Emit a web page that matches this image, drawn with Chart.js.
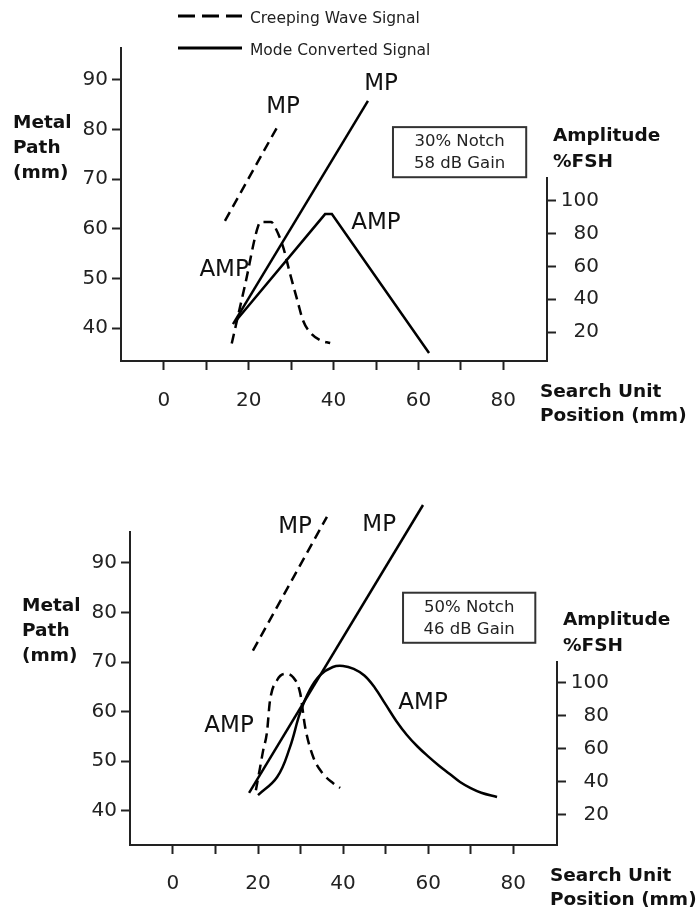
<!DOCTYPE html>
<html>
<head>
<meta charset="utf-8">
<script src="https://cdn.jsdelivr.net/npm/chart.js@4.4.1/dist/chart.umd.min.js"></script>
<style>
  body { margin: 0; background: #fff; }
  canvas { display: block; }
</style>
</head>
<body>
<canvas id="topChart" width="696" height="440"></canvas>
<canvas id="botChart" width="696" height="472"></canvas>
<script>
// values (x = search unit position mm, MP = metal path mm, AMP = %FSH)
const seriesNames = ["Creeping Wave Signal", "Mode Converted Signal"]
const xTicks = [0, 10, 20, 30, 40, 50, 60, 70, 80]
const xTickLabels = [0, 20, 40, 60, 80]
const mpTicks = [40, 50, 60, 70, 80, 90]
const ampTicks = [20, 40, 60, 80, 100]

// 30% notch
const topNote = ["30% Notch", "58 dB Gain"]
const topCwMpX = [14.4, 27.1]
const topCwMpY = [61.6, 81.1]
const topMcMpX = [16.3, 48.1]
const topMcMpY = [40.8, 85.8]
const topCwAmpX = [16.0, 19.2, 22.2, 22.9, 25.3, 26.2, 28.1, 29.7, 31.6, 32.8, 34.4, 36.8, 39.2]
const topCwAmpY = [13, 49.5, 84.5, 87.2, 87.2, 84, 72, 56, 38, 27, 20, 15, 13.3]
const topMcAmpX = [16.7, 38.0, 39.6, 62.5]
const topMcAmpY = [26, 92, 92, 7.2]

// 50% notch
const botNote = ["50% Notch", "46 dB Gain"]
const botCwMpX = [18.8, 36.2]
const botCwMpY = [72.3, 99.3]
const botMcMpX = [17.9, 58.8]
const botMcMpY = [43.6, 101.7]
const botCwAmpX = [19.5, 20.5, 21.2, 22.1, 22.8, 24.5, 26.4, 28.2, 29.9, 31.1, 33.0, 35.1, 37.6, 39.3]
const botCwAmpY = [35, 49, 59, 70, 89, 101.8, 105.5, 103.6, 94, 73, 55, 45.5, 39.4, 36.4]
const botMcAmpX = [20.0, 24.5, 27.5, 29.9, 32.2, 34.6, 37.6, 40.0, 42.5, 45.0, 47.5, 50.0, 52.5, 55.0, 57.5, 60.0, 62.5, 65.0, 67.5, 70.0, 72.5, 76.2]
const botMcAmpY = [32, 43, 61, 82, 96, 104.8, 109.7, 110.3, 108.5, 104.5, 97, 87, 77, 68.5, 61.5, 55.5, 50, 45, 40, 36.3, 33.5, 30.9]

const axisColor = "#222"
const fontName = '"DejaVu Sans", sans-serif'
const dash = [10, 6]
Chart.defaults.font.family = fontName

const pts = (xs, ys) => xs.map((x, i) => ({ x: x, y: ys[i] }))

// smooth: 0 straight, 1 monotone, 2 bezier
const line = (data, axis, dashed, smooth) => ({
  data: data,
  yAxisID: axis,
  borderColor: "#000",
  borderWidth: 2.5,
  borderDash: dashed ? dash : [],
  pointRadius: 0,
  fill: false,
  clip: false,
  tension: smooth === 2 ? 0.4 : 0,
  cubicInterpolationMode: smooth === 1 ? "monotone" : "default"
})

// texts, box, partial amplitude axis and legend
const decor = {
  id: "decor",
  afterDraw(chart, args, o) {
    const ctx = chart.ctx, a = chart.chartArea
    const xs = chart.scales.x, ys = chart.scales.y, amp = chart.scales.amp
    ctx.save()
    // amplitude axis only covers the lower part
    const ampTop = amp.getPixelForValue(o.ampAxisTop)
    ctx.strokeStyle = axisColor
    ctx.lineWidth = 2
    ctx.beginPath()
    ctx.moveTo(a.right, ampTop)
    ctx.lineTo(a.right, a.bottom + 1)
    ctx.stroke()

    // MP / AMP labels
    ctx.fillStyle = "#111"
    ctx.font = "23px " + fontName
    ctx.textAlign = "center"
    ctx.textBaseline = "middle"
    o.labels.forEach(l => ctx.fillText(l.text, xs.getPixelForValue(l.x), ys.getPixelForValue(l.y)))

    // notch box
    const bx1 = xs.getPixelForValue(o.box.x1), bx2 = xs.getPixelForValue(o.box.x2)
    const by1 = ys.getPixelForValue(o.box.y1), by2 = ys.getPixelForValue(o.box.y2)
    ctx.lineWidth = 2
    ctx.strokeStyle = "#333"
    ctx.strokeRect(bx1, by1, bx2 - bx1, by2 - by1)
    ctx.fillStyle = "#222"
    ctx.font = "16.5px " + fontName
    ctx.textBaseline = "alphabetic"
    o.note.forEach((t, i) => ctx.fillText(t, (bx1 + bx2) / 2, by1 + 19 + i * 22))

    // axis titles
    ctx.fillStyle = "#111"
    ctx.font = "bold 18.5px " + fontName
    ctx.textAlign = "left"
    const y80 = ys.getPixelForValue(80)
    ;["Metal", "Path", "(mm)"].forEach((t, i) => ctx.fillText(t, a.left - 108, y80 - 2 + i * 25))
    ctx.fillText("Amplitude", a.right + 6, ampTop - 36)
    ctx.fillText("%FSH", a.right + 6, ampTop - 10)
    ctx.fillText("Search Unit", a.right - 7, a.bottom + 36)
    ctx.fillText("Position (mm)", a.right - 7, a.bottom + 60)

    if (o.legend) {
      ctx.strokeStyle = "#000"
      ctx.lineWidth = 3
      ctx.font = "15.5px " + fontName
      ctx.fillStyle = "#222"
      seriesNames.forEach((name, i) => {
        const y = 16 + i * 32
        ctx.setLineDash(i === 0 ? [17, 7] : [])
        ctx.beginPath()
        ctx.moveTo(178, y)
        ctx.lineTo(242, y)
        ctx.stroke()
        ctx.fillText(name, 250, y + 7)
      })
      ctx.setLineDash([])
    }
    ctx.restore()
  }
}

function makeChart(id, sets, s) {
  const tickFont = { size: 20 }
  return new Chart(document.getElementById(id), {
    type: "line",
    data: { datasets: sets },
    options: {
      responsive: false,
      animation: false,
      events: [],
      layout: { padding: { left: 0, right: s.padRight, top: s.padTop, bottom: 0 } },
      plugins: {
        legend: { display: false },
        tooltip: { enabled: false },
        decor: s.decor
      },
      scales: {
        x: {
          type: "linear",
          min: -10.1,
          max: 90.3,
          afterBuildTicks: sc => { sc.ticks = xTicks.map(v => ({ value: v })) },
          afterFit: sc => { sc.height = s.xHeight },
          ticks: {
            autoSkip: false,
            maxRotation: 0,
            padding: s.xPad,
            color: "#222",
            font: tickFont,
            callback: v => xTickLabels.includes(v) ? String(v) : ""
          },
          grid: { drawOnChartArea: false, tickLength: 9, tickWidth: 2, tickColor: axisColor },
          border: { width: 2, color: axisColor }
        },
        y: {
          position: "left",
          min: s.mpMin,
          max: s.mpMax,
          afterBuildTicks: sc => { sc.ticks = mpTicks.map(v => ({ value: v })) },
          afterFit: sc => { sc.width = s.leftWidth },
          ticks: { padding: 4, color: "#222", font: tickFont },
          grid: { drawOnChartArea: false, tickLength: 9, tickWidth: 2, tickColor: axisColor },
          border: { width: 2, color: axisColor }
        },
        amp: {
          position: "right",
          min: s.ampMin,
          max: s.ampMax,
          afterBuildTicks: sc => { sc.ticks = ampTicks.map(v => ({ value: v })) },
          afterFit: sc => { sc.width = 52 },
          ticks: { padding: 5, crossAlign: "far", color: "#222", font: tickFont },
          grid: { drawOnChartArea: false, tickLength: 9, tickWidth: 2, tickColor: axisColor },
          border: { display: false }
        }
      }
    },
    plugins: [decor]
  })
}

makeChart("topChart", [
  line(pts(topCwMpX, topCwMpY), "y", true, 0),
  line(pts(topMcMpX, topMcMpY), "y", false, 0),
  line(pts(topCwAmpX, topCwAmpY), "amp", true, 1),
  line(pts(topMcAmpX, topMcAmpY), "amp", false, 0)
], {
  padTop: 48, padRight: 97, xHeight: 79, xPad: 19, leftWidth: 121,
  mpMin: 33.35, mpMax: 96.45, ampMin: 2.3, ampMax: 193.4,
  decor: {
    ampAxisTop: 114.7,
    legend: true,
    note: topNote,
    box: { x1: 54.0, x2: 85.4, y1: 80.5, y2: 70.4 },
    labels: [
      { text: "MP", x: 28.1, y: 84.6 },
      { text: "MP", x: 51.2, y: 89.2 },
      { text: "AMP", x: 14.2, y: 51.7 },
      { text: "AMP", x: 50.0, y: 61.2 }
    ]
  }
})

makeChart("botChart", [
  line(pts(botCwMpX, botCwMpY), "y", true, 0),
  line(pts(botMcMpX, botMcMpY), "y", false, 0),
  line(pts(botCwAmpX, botCwAmpY), "amp", true, 1),
  line(pts(botMcAmpX, botMcAmpY), "amp", false, 2)
], {
  padTop: 92, padRight: 87, xHeight: 67, xPad: 18, leftWidth: 130,
  mpMin: 33.1, mpMax: 96.25, ampMin: 1.8, ampMax: 191.5,
  decor: {
    ampAxisTop: 113.3,
    legend: false,
    note: botNote,
    box: { x1: 54.1, x2: 85.2, y1: 84.0, y2: 73.9 },
    labels: [
      { text: "MP", x: 28.7, y: 97.3 },
      { text: "MP", x: 48.5, y: 97.7 },
      { text: "AMP", x: 13.2, y: 57.1 },
      { text: "AMP", x: 58.8, y: 61.8 }
    ]
  }
})
</script>
</body>
</html>
